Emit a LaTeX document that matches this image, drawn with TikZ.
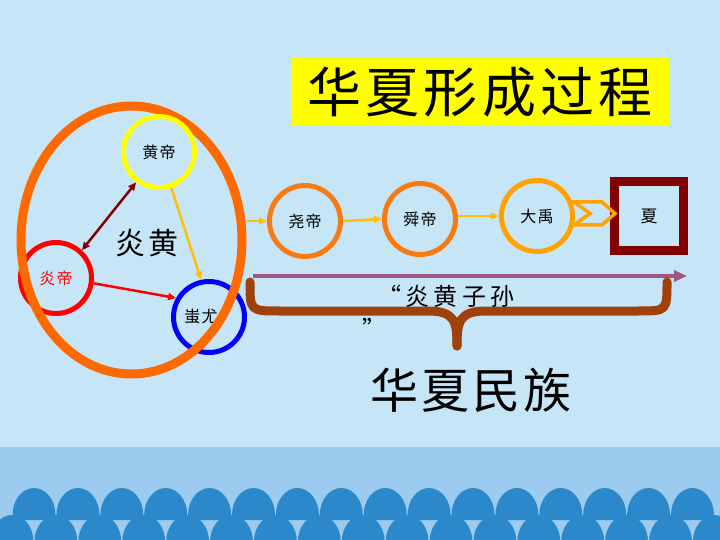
\documentclass[tikz,border=0pt]{standalone}
\usepackage{fontspec}
\newfontfamily\cjk{Noto Sans CJK SC}
\usetikzlibrary{shapes.geometric,arrows.meta,calc}
\definecolor{bgtop}{HTML}{C6E6F8}
\definecolor{bgbot}{HTML}{9BCBEF}
\definecolor{scal}{HTML}{2B88CB}
\definecolor{bigorange}{HTML}{FF6A00}
\definecolor{chainorange}{HTML}{FA7A12}
\definecolor{lightorange}{HTML}{FFA200}
\definecolor{arrowyellow}{HTML}{FFC000}
\definecolor{darkred}{HTML}{800000}
\definecolor{mauve}{HTML}{9E5780}
\definecolor{rust}{HTML}{A0400A}
\definecolor{ylw}{HTML}{FFFF00}
\tikzset{
  person/.style={circle,draw,line width=5pt,minimum size=71pt,inner sep=0pt,font=\cjk\fontsize{16}{16}\selectfont\addfontfeature{LetterSpace=8}},
  link/.style={line width=2.5pt,-{Triangle[length=8pt,width=7pt]}},
}
\begin{document}
\begin{tikzpicture}[x=1pt,y=-1pt]
\useasboundingbox (0,0) rectangle (720,540);
\fill[bgtop] (0,0) rectangle (720,447);
\fill[bgbot] (0,447) rectangle (720,540);
\begin{scope}
\clip (0,0) rectangle (720,540);
\foreach \i in {0,...,15}{
  \fill[scal] ({34+43.9*\i-21.5},520) -- ({34+43.9*\i-21.5},515) arc[start angle=180,end angle=360,x radius=21.5,y radius=27] -- ({34+43.9*\i+21.5},520) -- cycle;
}
\foreach \i in {0,...,16}{
  \fill[scal] ({12+43.9*\i-21.5},545) -- ({12+43.9*\i-21.5},542) arc[start angle=180,end angle=360,x radius=21.5,y radius=27] -- ({12+43.9*\i+21.5},545) -- cycle;
}
\end{scope}

% title
\node[fill=ylw,minimum width=378pt,minimum height=68pt,inner sep=0pt,font=\cjk\fontsize{54}{54}\selectfont\addfontfeature{LetterSpace=8}] (title) at (480,92) {华夏形成过程};

% left cluster
\node[person,draw=red,text=red] (yan) at (56,278) {炎帝};
\node[person,draw=blue] (chi) at (209,317) {\hspace*{-16pt}蚩尤};
\node[ellipse,draw=bigorange,line width=9pt,minimum width=221pt,minimum height=268pt,inner sep=0pt] (big) at (131.5,240) {};
\node[person,draw=ylw] (huang) at (159,152) {黄帝};
\node[font=\cjk\fontsize{30}{30}\selectfont\addfontfeature{LetterSpace=8}] (yh) at (147,243) {炎黄};

\draw[line width=2.5pt,darkred,{Triangle[length=8pt,width=7pt]}-{Triangle[length=8pt,width=7pt]}] (yan.47) -- (huang.233);
\draw[link,arrowyellow] (huang.289) -- (chi.102);
\draw[link,red] (yan.352) -- (chi.150);

% chain
\node[person,draw=chainorange] (yao) at (305,221) {尧帝};
\node[person,draw=chainorange] (shun) at (420,219) {舜帝};
\node[person,draw=lightorange] (yu) at (537,216) {大禹};
\node[draw=darkred,line width=9pt,minimum size=69pt,inner sep=0pt,font=\cjk\fontsize{17}{17}\selectfont] (xia) at (649,216) {夏};
\draw[link,arrowyellow] (big.east |- yao.west) -- (yao.west);
\draw[link,arrowyellow] (yao.east) -- (shun.west);
\draw[link,arrowyellow] (shun.east |- yu.west) -- (yu.west);
\draw[lightorange,line width=3.5pt,line join=miter] (574,202) -- (602,202) -- (615,213.5) -- (602,225) -- (574,225) -- (590,213.5) -- cycle;

% bottom line and brace
\coordinate (lineL) at (253,276);
\coordinate (lineR) at (687,276);
\draw[mauve,line width=4pt,-{Triangle[length=13pt,width=11pt]}] (lineL) -- (lineR);
\coordinate (braceL) at (250,282);
\coordinate (braceR) at (667,282);
\coordinate (braceT) at (457,346);
\draw[rust,line width=9pt,line cap=round,line join=round] (braceL) .. controls (250,311) .. (280,311) -- (428,311) .. controls (455,311) and (457,322) .. (braceT);
\draw[rust,line width=9pt,line cap=round,line join=round] (braceT) .. controls (457,322) and (459,311) .. (486,311) -- (638,311) .. controls (667,311) .. (braceR);

\node[font=\cjk\fontsize{24}{24}\selectfont\addfontfeature{LetterSpace=18}] (zs) at (446,296) {“炎黄子孙};
\node[font=\cjk\fontsize{24}{24}\selectfont] (zq) at (374,328) {”};
\node[font=\cjk\fontsize{48}{48}\selectfont\addfontfeature{LetterSpace=6}] (hx) at (471,390) {华夏民族};
\end{tikzpicture}
\end{document}
